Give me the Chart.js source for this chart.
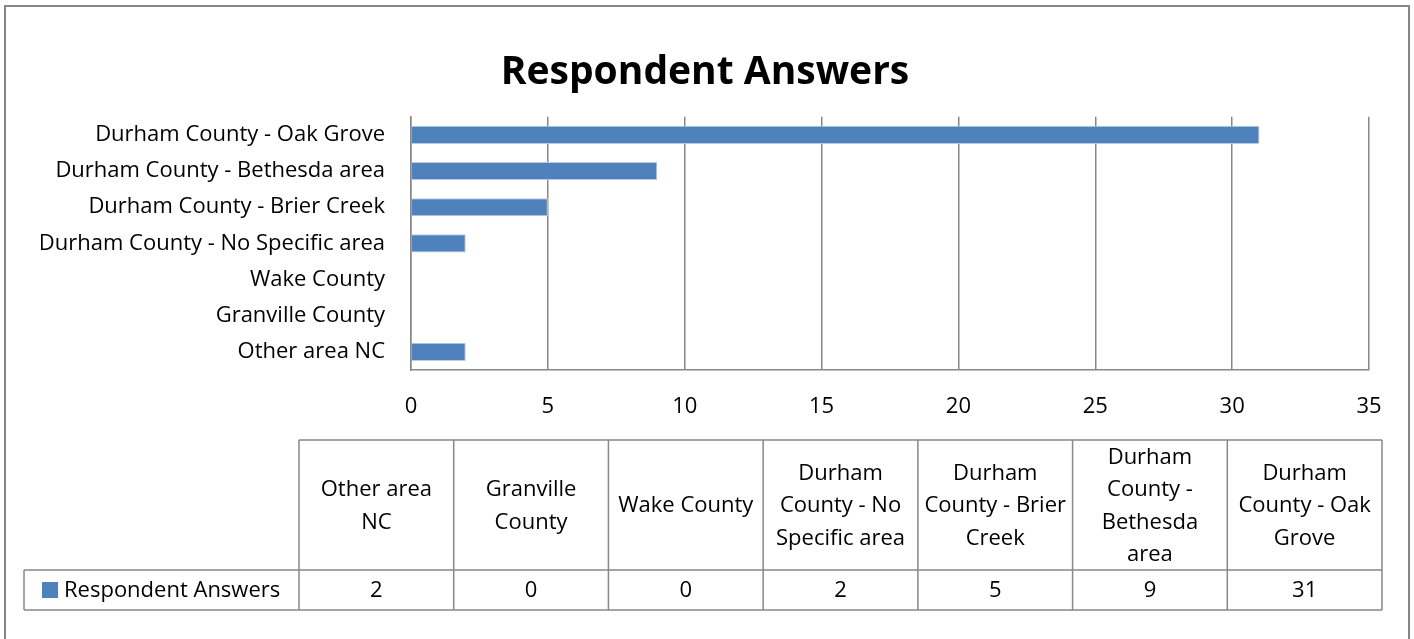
<!DOCTYPE html>
<html>
<head>
<meta charset="utf-8">
<title>Respondent Answers</title>
<script src="https://cdn.jsdelivr.net/npm/chart.js@4.4.1/dist/chart.umd.min.js"></script>
<style>
    html, body { margin: 0; padding: 0; background: #ffffff; }
    #wrap { width: 1414px; height: 639px; }
</style>
</head>
<body>
<div id="wrap"><canvas id="answersChart" width="1414" height="639"></canvas></div>
<script>
// Categories in sheet order (first one ends up at the bottom of the bars)
const categories = [
    'Other area NC',
    'Granville County',
    'Wake County',
    'Durham County - No Specific area',
    'Durham County - Brier Creek',
    'Durham County - Bethesda area',
    'Durham County - Oak Grove'
];
const answers = [2, 0, 0, 2, 5, 9, 31];
const seriesName = 'Respondent Answers';

// How the header cells of the data table wrap
const tableHeaders = [
    ['Other area', 'NC'],
    ['Granville', 'County'],
    ['Wake County'],
    ['Durham', 'County - No', 'Specific area'],
    ['Durham', 'County - Brier', 'Creek'],
    ['Durham', 'County -', 'Bethesda', 'area'],
    ['Durham', 'County - Oak', 'Grove']
];

const FONT = '"Open Sans", Lato, sans-serif';
const TEXT_SIZE = 22;
const BAR_COLOR = '#4f81bd';
const LINE_COLOR = '#888888';

// Frame round the whole chart
const framePlugin = {
    id: 'frame',
    beforeDraw(chart) {
        const ctx = chart.ctx;
        ctx.save();
        ctx.fillStyle = '#ffffff';
        ctx.fillRect(0, 0, chart.width, chart.height);
        ctx.strokeStyle = '#868686';
        ctx.lineWidth = 2;
        ctx.strokeRect(5, 6, chart.width - 10, chart.height + 10);
        ctx.restore();
    }
};

// Data table under the chart, like the one Excel adds
const tablePlugin = {
    id: 'dataTable',
    afterDraw(chart) {
        const ctx = chart.ctx;
        const left = 299, right = 1382;
        const headTop = 440, headBottom = 570, rowBottom = 610;
        const legendLeft = 24;
        const colW = (right - left) / categories.length;
        const lineH = 32.5;

        ctx.save();
        ctx.strokeStyle = LINE_COLOR;
        ctx.lineWidth = 1.5;

        // grid of the table
        ctx.beginPath();
        ctx.moveTo(left, headTop); ctx.lineTo(right, headTop);
        ctx.moveTo(legendLeft, headBottom); ctx.lineTo(right, headBottom);
        ctx.moveTo(legendLeft, rowBottom); ctx.lineTo(right, rowBottom);
        ctx.moveTo(legendLeft, headBottom); ctx.lineTo(legendLeft, rowBottom);
        for (let i = 0; i <= categories.length; i++) {
            const x = left + i * colW;
            ctx.moveTo(x, headTop); ctx.lineTo(x, rowBottom);
        }
        ctx.stroke();

        ctx.fillStyle = '#000000';
        ctx.font = TEXT_SIZE + 'px ' + FONT;
        ctx.textAlign = 'center';
        ctx.textBaseline = 'middle';

        const headMid = (headTop + headBottom) / 2 + 1;
        const rowMid = (headBottom + rowBottom) / 2 + 1;
        tableHeaders.forEach((lines, i) => {
            const cx = left + (i + 0.5) * colW;
            const startY = headMid - (lines.length - 1) * lineH / 2;
            lines.forEach((line, j) => ctx.fillText(line, cx, startY + j * lineH));
            ctx.fillText(String(answers[i]), cx, rowMid);
        });

        // legend key + series name
        ctx.fillStyle = BAR_COLOR;
        ctx.fillRect(42, rowMid - 9, 16, 16);
        ctx.fillStyle = '#000000';
        ctx.textAlign = 'left';
        ctx.fillText(seriesName, 64, rowMid);
        ctx.restore();
    }
};

const ctx = document.getElementById('answersChart').getContext('2d');
const answersChart = new Chart(ctx, {
    type: 'bar',
    data: {
        labels: categories,
        datasets: [{
            label: seriesName,
            data: answers,
            backgroundColor: BAR_COLOR,
            borderColor: '#b9cde5',
            borderWidth: 1,
            categoryPercentage: 1.0,
            barPercentage: 0.5
        }]
    },
    options: {
        indexAxis: 'y',
        responsive: false,
        animation: false,
        layout: {
            padding: { left: 41, right: 45, top: 30, bottom: 214 }
        },
        scales: {
            x: {
                min: 0,
                max: 35,
                ticks: {
                    stepSize: 5,
                    color: '#000000',
                    padding: 24,
                    font: { family: FONT, size: TEXT_SIZE }
                },
                grid: {
                    color: LINE_COLOR,
                    lineWidth: 1.5,
                    drawTicks: false
                },
                border: { color: LINE_COLOR, width: 1.5 },
                afterFit: scale => { scale.height = 55; }
            },
            y: {
                reverse: true,
                ticks: {
                    color: '#000000',
                    padding: 26,
                    font: { family: FONT, size: TEXT_SIZE }
                },
                grid: { display: false, drawTicks: false },
                border: { color: LINE_COLOR, width: 1.5 },
                afterFit: scale => { scale.width = 370; }
            }
        },
        plugins: {
            legend: { display: false },
            tooltip: { enabled: false },
            title: {
                display: true,
                text: 'Respondent Answers',
                color: '#000000',
                font: { family: FONT, size: 39, weight: 'bold' },
                padding: { top: 19, bottom: 21 }
            }
        }
    },
    plugins: [framePlugin, tablePlugin]
});
</script>
</body>
</html>
